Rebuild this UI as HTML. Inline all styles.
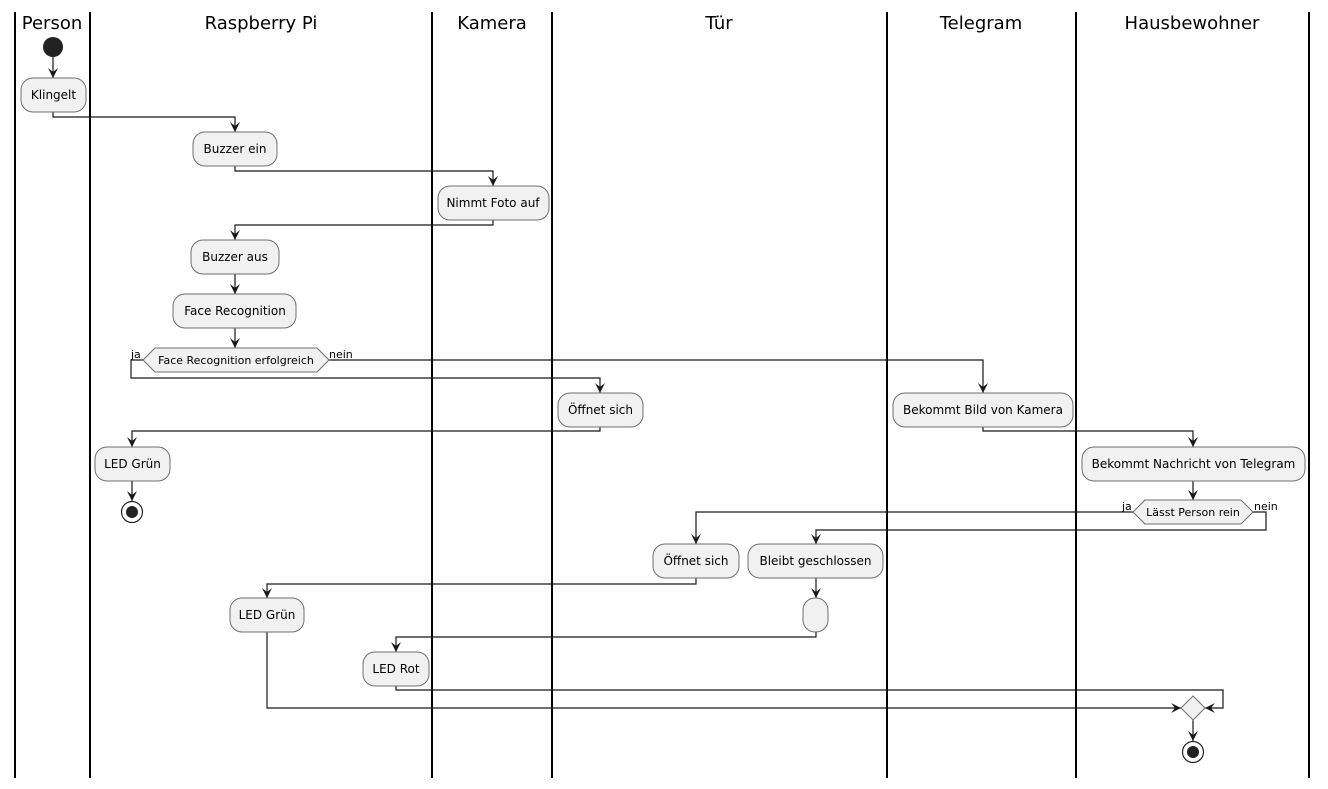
<!DOCTYPE html>
<html><head><meta charset="utf-8"><style>
html,body{margin:0;padding:0;background:#fff;width:1328px;height:789px;overflow:hidden}
svg{display:block}
.b{fill:#f1f1f1;stroke:#6f6f6f;stroke-width:1}
.l{fill:none;stroke:#181818;stroke-width:1.2}
.a{fill:#181818;stroke:none}
.t{font-family:"DejaVu Sans","Liberation Sans",sans-serif;font-size:12px;fill:#000;text-anchor:middle}
.s{font-family:"DejaVu Sans","Liberation Sans",sans-serif;font-size:11px;fill:#000}
.h{font-family:"DejaVu Sans","Liberation Sans",sans-serif;font-size:18px;fill:#000;text-anchor:middle}
.lane{stroke:#000;stroke-width:2}
</style></head><body>
<svg width="1328" height="789" viewBox="0 0 1328 789">
<g class="lane">
<line x1="15" y1="12" x2="15" y2="778"/><line x1="90" y1="12" x2="90" y2="778"/>
<line x1="432" y1="12" x2="432" y2="778"/><line x1="552" y1="12" x2="552" y2="778"/>
<line x1="887" y1="12" x2="887" y2="778"/><line x1="1076" y1="12" x2="1076" y2="778"/>
<line x1="1309" y1="12" x2="1309" y2="778"/>
</g>
<text class="h" x="52" y="29">Person</text>
<text class="h" x="261" y="29">Raspberry Pi</text>
<text class="h" x="492" y="29">Kamera</text>
<text class="h" x="719" y="29">Tür</text>
<text class="h" x="981" y="29">Telegram</text>
<text class="h" x="1192" y="29">Hausbewohner</text>

<circle cx="53" cy="47" r="10" fill="#222"/>
<!-- lines -->
<g class="l">
<path d="M53 57V78"/>
<path d="M53 112V117H235V132"/>
<path d="M235 166V171H493V186"/>
<path d="M493 220V225H235V240"/>
<path d="M235 274V294"/>
<path d="M235 328V348"/>
<path d="M143 360H131V378H600V393"/>
<path d="M329 360H983V393"/>
<path d="M600 427V431H132V447"/>
<path d="M132 481V501"/>
<path d="M983 427V431H1193V447"/>
<path d="M1193 481V500"/>
<path d="M1133 512H696V544"/>
<path d="M1253 512H1266V530H816V544"/>
<path d="M816 578V598"/>
<path d="M696 578V584H267V598"/>
<path d="M816 632V637H396V652"/>
<path d="M396 686V690H1223V708H1205"/>
<path d="M267 632V708H1181"/>
<path d="M1193 720V741"/>
</g>
<g class="a">
<path d="M48 68L53 78L58 68L53 72Z"/>
<path d="M230 122L235 132L240 122L235 126Z"/>
<path d="M488 176L493 186L498 176L493 180Z"/>
<path d="M230 230L235 240L240 230L235 234Z"/>
<path d="M230 284L235 294L240 284L235 288Z"/>
<path d="M230 338L235 348L240 338L235 342Z"/>
<path d="M595 383L600 393L605 383L600 387Z"/>
<path d="M978 383L983 393L988 383L983 387Z"/>
<path d="M127 437L132 447L137 437L132 441Z"/>
<path d="M127 491L132 501L137 491L132 495Z"/>
<path d="M1188 437L1193 447L1198 437L1193 441Z"/>
<path d="M1188 490L1193 500L1198 490L1193 494Z"/>
<path d="M691 534L696 544L701 534L696 538Z"/>
<path d="M811 534L816 544L821 534L816 538Z"/>
<path d="M811 588L816 598L821 588L816 592Z"/>
<path d="M262 588L267 598L272 588L267 592Z"/>
<path d="M391 642L396 652L401 642L396 646Z"/>
<path d="M1215 703L1205 708L1215 713L1211 708Z"/>
<path d="M1171 703L1181 708L1171 713L1175 708Z"/>
<path d="M1188 731L1193 741L1198 731L1193 735Z"/>
</g>
<!-- boxes -->
<rect class="b" x="21" y="78" width="65" height="34" rx="12"/><text class="t" x="53.5" y="99">Klingelt</text>
<rect class="b" x="193" y="132" width="84" height="34" rx="12"/><text class="t" x="235" y="153">Buzzer ein</text>
<rect class="b" x="438" y="186" width="111" height="34" rx="12"/><text class="t" x="493" y="207">Nimmt Foto auf</text>
<rect class="b" x="191" y="240" width="88" height="34" rx="12"/><text class="t" x="235" y="261">Buzzer aus</text>
<rect class="b" x="173" y="294" width="123" height="34" rx="12"/><text class="t" x="235" y="315">Face Recognition</text>
<polygon class="b" points="143,360 155,348 317,348 329,360 317,372 155,372"/>
<text class="t" x="236" y="364" style="font-size:11px">Face Recognition erfolgreich</text>
<text class="s" x="131" y="358">ja</text><text class="s" x="329" y="358">nein</text>
<rect class="b" x="558" y="393" width="85" height="34" rx="12"/><text class="t" x="600.5" y="414">Öffnet sich</text>
<rect class="b" x="893" y="393" width="180" height="34" rx="12"/><text class="t" x="983" y="414">Bekommt Bild von Kamera</text>
<rect class="b" x="95" y="447" width="75" height="34" rx="12"/><text class="t" x="132.5" y="468">LED Grün</text>
<circle cx="132" cy="512" r="10.5" fill="#fff" stroke="#222" stroke-width="1.2"/><circle cx="132" cy="512" r="6" fill="#222"/>
<rect class="b" x="1082" y="447" width="223" height="34" rx="12"/><text class="t" x="1193.5" y="468">Bekommt Nachricht von Telegram</text>
<polygon class="b" points="1133,512 1145,500 1241,500 1253,512 1241,524 1145,524"/>
<text class="t" x="1193" y="516" style="font-size:11px">Lässt Person rein</text>
<text class="s" x="1122" y="510">ja</text><text class="s" x="1254" y="510">nein</text>
<rect class="b" x="653" y="544" width="86" height="34" rx="12"/><text class="t" x="696" y="565">Öffnet sich</text>
<rect class="b" x="748" y="544" width="135" height="34" rx="12"/><text class="t" x="815.5" y="565">Bleibt geschlossen</text>
<rect class="b" x="803" y="598" width="25" height="34" rx="12"/>
<rect class="b" x="230" y="598" width="74" height="34" rx="12"/><text class="t" x="267" y="619">LED Grün</text>
<rect class="b" x="363" y="652" width="66" height="34" rx="12"/><text class="t" x="396" y="673">LED Rot</text>
<polygon class="b" points="1181,708 1193,696 1205,708 1193,720"/>
<circle cx="1193" cy="752" r="10.5" fill="#fff" stroke="#222" stroke-width="1.2"/><circle cx="1193" cy="752" r="6" fill="#222"/>
</svg>
</body></html>
